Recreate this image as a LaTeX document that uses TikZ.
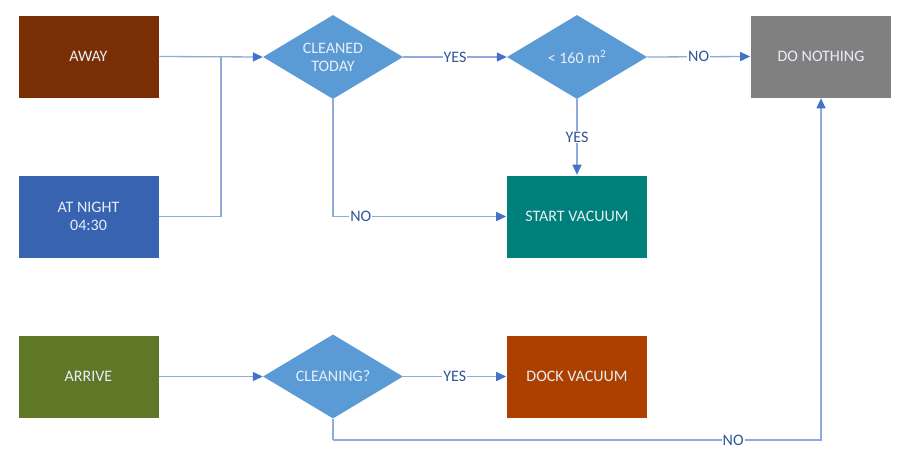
\documentclass[tikz,border=0pt]{standalone}
\usepackage{fontspec}
\setmainfont{Carlito}
\usetikzlibrary{shapes.geometric,arrows.meta}
\definecolor{awaycol}{RGB}{122,46,4}
\definecolor{nightcol}{RGB}{56,99,176}
\definecolor{arrivecol}{RGB}{94,120,40}
\definecolor{askcol}{RGB}{91,155,213}
\definecolor{idlecol}{RGB}{128,128,128}
\definecolor{startcol}{RGB}{0,128,122}
\definecolor{dockcol}{RGB}{173,64,0}
\definecolor{boxtext}{RGB}{232,238,246}
\definecolor{linecol}{RGB}{143,170,220}
\definecolor{tipcol}{RGB}{68,114,196}
\definecolor{lblcol}{RGB}{47,85,151}
\tikzset{
  box/.style={rectangle,draw=white,line width=0.6pt,minimum width=141pt,minimum height=83pt,
    text=boxtext,align=center,font=\fontsize{16}{18}\selectfont},
  ask/.style={diamond,aspect=1.67,fill=askcol,minimum width=140pt,minimum height=84pt,inner sep=0pt,
    text=boxtext,align=center,font=\fontsize{16}{18}\selectfont},
  link/.style={draw=linecol,line width=1.3pt,-{Triangle[length=10pt,width=9pt,color=tipcol]}},
  wire/.style={draw=linecol,line width=1.3pt},
  lbl/.style={fill=white,inner sep=1pt,text=lblcol,font=\fontsize{16}{18}\selectfont}
}
\begin{document}
\begin{tikzpicture}[x=1pt,y=-1pt]
\useasboundingbox (0,0) rectangle (910,471);
% sources
\node[box,fill=awaycol] (away) at (88.5,56.5) {AWAY};
\node[box,fill=nightcol] (night) at (88.5,216.5) {AT NIGHT\\04:30};
\node[box,fill=arrivecol] (arrive) at (88.5,376.5) {ARRIVE};
% questions
\node[ask] (cleaned) at (333,57) {CLEANED\\TODAY};
\node[ask] (area) at (577,57) {< 160 m\textsuperscript{2}};
\node[ask] (cleaning) at (333,376.5) {CLEANING?};
% actions
\node[box,fill=idlecol] (nothing) at (821,56.5) {DO NOTHING};
\node[box,fill=startcol] (start) at (577,216.5) {START VACUUM};
\node[box,fill=dockcol] (dock) at (577,376.5) {DOCK VACUUM};
\coordinate (join) at (221,57);
\coordinate (low) at (333,440);
% connectors
\draw[link] (away.east) -- (cleaned.west);
\draw[wire] (night.east) -| (join);
\draw[link] (cleaned.east) -- node[lbl]{YES} (area.west);
\draw[link] (area.east) -- node[lbl]{NO} (nothing.west);
\draw[link] (area.south) -- node[lbl]{YES} (start.north);
\draw[link] (cleaned.south) |- node[lbl,pos=0.58]{NO} (start.west);
\draw[link] (arrive.east) -- (cleaning.west);
\draw[link] (cleaning.east) -- node[lbl]{YES} (dock.west);
\draw[wire] (cleaning.south) -- (low);
\draw[link] (low) -| node[lbl,pos=0.41]{NO} (nothing.south);
\end{tikzpicture}
\end{document}
